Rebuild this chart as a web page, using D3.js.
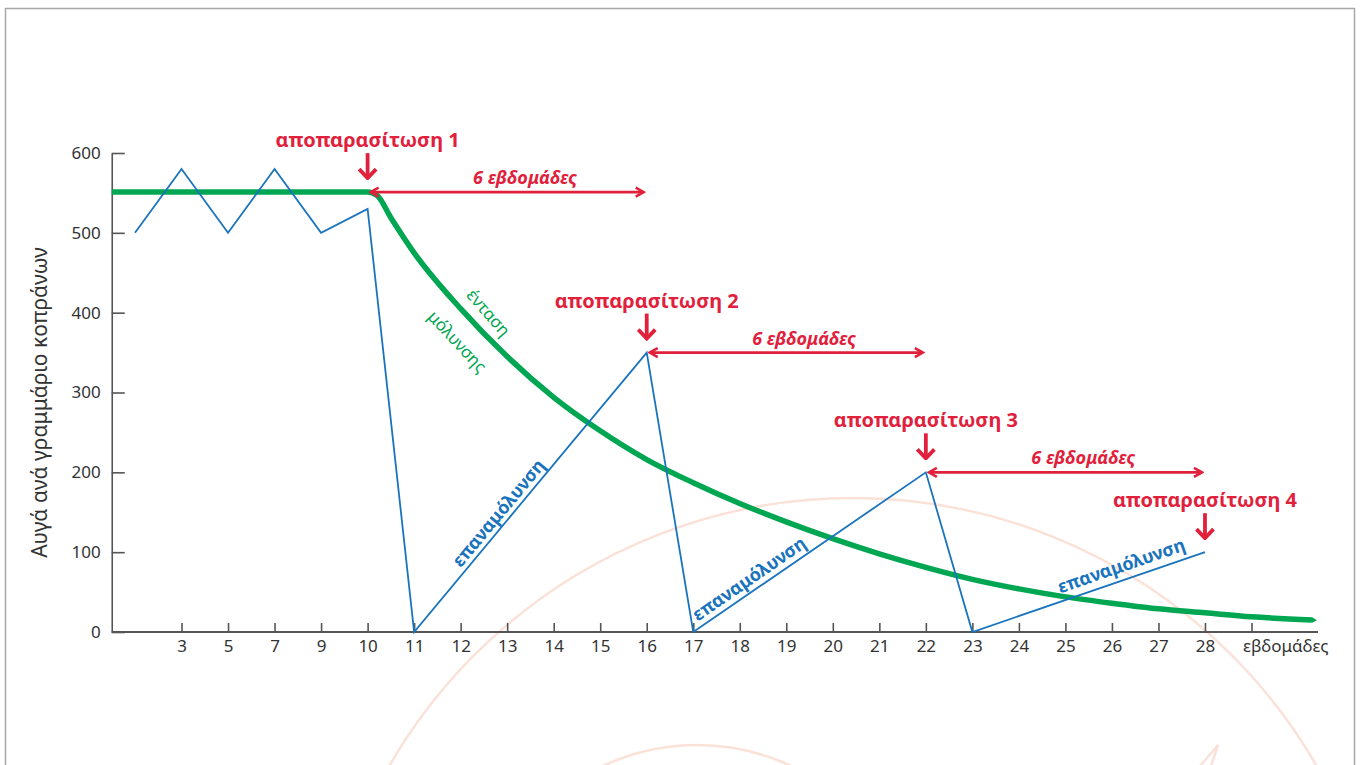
<!DOCTYPE html>
<html>
<head>
<meta charset="utf-8">
<script src="https://cdn.jsdelivr.net/npm/d3@7"></script>
<style>
  body { margin: 0; background: #fff; }
  svg { display: block; }
  text { font-family: "Noto Sans", "Open Sans", sans-serif; }
</style>
</head>
<body>
<div id="wrapper"></div>
<script>
// categories on the x axis (first and last are not labelled)
const weeks = ["1","3","5","7","9","10","11","12","13","14","15","16","17","18","19","20","21","22","23","24","25","26","27","28","29"]
const hiddenWeeks = ["1","29"]
const yTicks = [0,100,200,300,400,500,600]

// blue series: eggs per gram
const blueWeeks = ["1","3","5","7","9","10","11","16","17","22","23","28"]
const blueEggs  = [500,580,500,580,500,530,0,350,0,200,0,100]

// green curve: intensity of infection, position in axis steps
const greenStep = [-0.5,5,5.2,5.5,6,7,8,9,10,11,12,13,14,15,16,17,18,19,20,21,22,23,24,25.3]
const greenEggs = [551,551,547,519,475,405,345,294,252,216,187,161,138,117,98,81,66,54,44,36,29,24,19,15]

// deworming annotations
const dewormWeeks  = ["10","16","22","28"]
const dewormLevel  = [551,350,200,100]
const dewormLabels = ["αποπαρασίτωση 1","αποπαρασίτωση 2","αποπαρασίτωση 3","αποπαρασίτωση 4"]

const spanFrom  = ["10","16","22"]
const spanTo    = ["16","22","28"]
const spanLevel = [551,350,200]
const spanLabel = "6 εβδομάδες"

// reinfection labels along the rising segments
const reinfFrom = ["11","17","23"]
const reinfTo   = ["16","22","28"]
const reinfTop  = [350,200,100]
const reinfAt   = [0.40,0.27,0.66]
const reinfLabel = "επαναμόλυνση"
const reinfGap  = [5,6,8]   // px between line and text baseline

const red = "#e1203c", blue = "#1a74bd", green = "#00a651", axisCol = "#555"

const width = 1360, height = 765

const svg = d3.select("#wrapper").append("svg")
  .attr("width", width).attr("height", height)

const defs = svg.append("defs")
function chevron(id, w, h, sw) {
  defs.append("marker")
    .attr("id", id)
    .attr("markerUnits", "userSpaceOnUse")
    .attr("viewBox", `${-w - 2} ${-h} ${w + 4} ${2 * h}`)
    .attr("refX", 0).attr("refY", 0)
    .attr("markerWidth", w + 4).attr("markerHeight", 2 * h)
    .attr("orient", "auto-start-reverse")
    .append("path")
      .attr("d", `M${-w},${-h + 1.5}L0,0L${-w},${h - 1.5}`)
      .attr("fill", "none").attr("stroke", red)
      .attr("stroke-width", sw).attr("stroke-linejoin", "miter")
}
chevron("arrH", 8, 6, 2.6)
chevron("arrV", 9, 10, 3.8)

// small pointed tip at the end of the green curve
defs.append("marker")
  .attr("id", "tipG")
  .attr("markerUnits", "userSpaceOnUse")
  .attr("viewBox", "0 -4 6 8")
  .attr("refX", 0).attr("refY", 0)
  .attr("markerWidth", 6).attr("markerHeight", 8)
  .attr("orient", "auto")
  .append("path")
    .attr("d", "M0,-2.75L5,0L0,2.75Z")
    .attr("fill", green)

// frame
svg.append("rect")
  .attr("x", 5.5).attr("y", 8.5).attr("width", 1349).attr("height", 800)
  .attr("fill", "none").attr("stroke", "#a8a8a8").attr("stroke-width", 1.5)

// faint watermark
const wm = svg.append("g").attr("fill", "none").attr("stroke", "#fbe2d8").attr("stroke-width", 2.5)
wm.append("circle").attr("cx", 853).attr("cy", 1033).attr("r", 535)
wm.append("circle").attr("cx", 697).attr("cy", 966).attr("r", 221)
wm.append("path").attr("d", "M1200,766L1218,745L1211,766")

// scales
const x = d3.scalePoint().domain(weeks).range([135, 1251.5])
const xStep = d3.scaleLinear().domain([0, weeks.length - 1]).range(x.range())
const y = d3.scaleLinear().domain([0, 600]).range([632, 153])

const xLeft = xStep(-0.5), xRight = xStep(25.43)

// y axis
const yAxis = svg.append("g")
  .attr("transform", `translate(${xLeft},0)`)
  .call(d3.axisLeft(y).tickValues(yTicks).tickSizeInner(-13).tickSizeOuter(0).tickPadding(11))
yAxis.select(".domain").attr("stroke", axisCol).attr("stroke-width", 1.6)
yAxis.selectAll(".tick line").attr("stroke", axisCol).attr("stroke-width", 1.6)
yAxis.selectAll(".tick text").attr("font-size", 17).attr("fill", "#333")
  .attr("font-family", "Noto Sans")

// x axis
const xAxis = svg.append("g")
  .attr("transform", `translate(0,${y(0)})`)
  .call(d3.axisBottom(x).tickSizeInner(-9).tickSizeOuter(0).tickPadding(8)
    .tickFormat(d => hiddenWeeks.includes(d) ? "" : d))
xAxis.select(".domain").remove()
xAxis.selectAll(".tick").filter(d => d === hiddenWeeks[0]).remove()
xAxis.append("line").attr("x1", xLeft).attr("x2", xRight)
  .attr("stroke", axisCol).attr("stroke-width", 2)
xAxis.selectAll(".tick line").attr("stroke", axisCol).attr("stroke-width", 1.6)
xAxis.selectAll(".tick text").attr("font-size", 17).attr("fill", "#333")
  .attr("font-family", "Noto Sans")
xAxis.append("text")
  .attr("x", (x("29") + xRight) / 2 + 1).attr("y", 8).attr("dy", "0.71em")
  .attr("text-anchor", "middle").attr("font-size", 17).attr("fill", "#333")
  .text("εβδομάδες")

// y title
svg.append("text")
  .attr("transform", `translate(47,${y(300) + 10}) rotate(-90)`)
  .attr("text-anchor", "middle").attr("font-size", 21).attr("fill", "#333")
  .text("Αυγά ανά γραμμάριο κοπράνων")

// green curve
const greenLine = d3.line()
  .curve(d3.curveMonotoneX)
  .x((d, i) => xStep(greenStep[i]))
  .y(d => y(d))
svg.append("path")
  .attr("d", greenLine(greenEggs))
  .attr("fill", "none").attr("stroke", green).attr("stroke-width", 5.5)
  .attr("stroke-linecap", "butt")
  .attr("marker-end", "url(#tipG)")

// blue line
const blueLine = d3.line()
  .x((d, i) => x(blueWeeks[i]))
  .y(d => y(d))
svg.append("path")
  .attr("d", blueLine(blueEggs))
  .attr("fill", "none").attr("stroke", blue).attr("stroke-width", 1.8)
  .attr("stroke-linejoin", "miter")

// green labels, one on each side of the curve
const gx = xStep(7.5), gy = y(390)
svg.append("text")
  .attr("transform", `translate(${gx},${gy - 4}) rotate(49)`)
  .attr("text-anchor", "middle").attr("font-size", 17).attr("fill", green)
  .text("ένταση")
svg.append("text")
  .attr("transform", `translate(${gx - 31},${gy + 25}) rotate(47)`)
  .attr("text-anchor", "middle").attr("font-size", 17).attr("fill", green)
  .text("μόλυνσης")

// reinfection labels
reinfFrom.forEach((w, i) => {
  const x0 = x(w), y0 = y(0), x1 = x(reinfTo[i]), y1 = y(reinfTop[i])
  const t = reinfAt[i]
  const px = x0 + (x1 - x0) * t, py = y0 + (y1 - y0) * t
  const ang = Math.atan2(y1 - y0, x1 - x0) * 180 / Math.PI
  svg.append("text")
    .attr("transform", `translate(${px},${py}) rotate(${ang})`)
    .attr("text-anchor", "middle").attr("dy", -reinfGap[i])
    .attr("font-size", 18).attr("font-weight", "bold").attr("fill", blue)
    .text(reinfLabel)
})

// deworming arrows and labels
dewormWeeks.forEach((w, i) => {
  const cx = x(w), tip = y(dewormLevel[i]) - 13
  svg.append("line")
    .attr("x1", cx).attr("x2", cx).attr("y1", tip - 26).attr("y2", tip - 1)
    .attr("stroke", red).attr("stroke-width", 3.8)
    .attr("marker-end", "url(#arrV)")
  svg.append("text")
    .attr("x", cx).attr("y", tip - 32)
    .attr("text-anchor", "middle").attr("font-size", 20).attr("font-weight", "bold")
    .attr("fill", red)
    .text(dewormLabels[i])
})

// six-week spans
spanFrom.forEach((w, i) => {
  const xa = x(w) + 3, xb = x(spanTo[i]) - 3, yy = y(spanLevel[i])
  svg.append("line")
    .attr("x1", xa).attr("x2", xb).attr("y1", yy).attr("y2", yy)
    .attr("stroke", red).attr("stroke-width", 2.6)
    .attr("marker-start", "url(#arrH)").attr("marker-end", "url(#arrH)")
  svg.append("text")
    .attr("x", (xa + xb) / 2 + 18).attr("y", yy - 8)
    .attr("text-anchor", "middle").attr("font-size", 18).attr("font-weight", "bold")
    .attr("font-style", "italic").attr("fill", red)
    .text(spanLabel)
})
</script>
</body>
</html>
